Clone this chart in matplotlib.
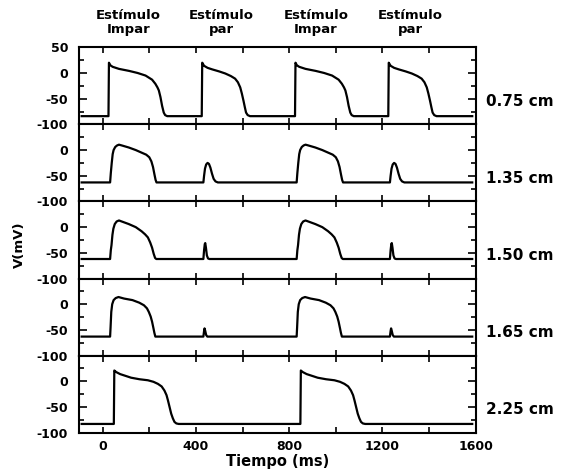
import numpy as np
import matplotlib.pyplot as plt
from matplotlib.ticker import MultipleLocator

plt.rcParams['font.family'] = ['DejaVu Sans']
plt.rcParams['font.weight'] = 'bold'
plt.rcParams['axes.unicode_minus'] = False

# etiquetas
distances = ['0.75 cm', '1.35 cm', '1.50 cm', '1.65 cm', '2.25 cm']
stim_labels = ['Estímulo\nImpar', 'Estímulo\npar', 'Estímulo\nImpar', 'Estímulo\npar']
stim_label_t = [110, 510, 915, 1320]
t_start, t_end = -90, 1585

# 0.75 cm: potencial de accion impar / par (t relativo en ms, V en mV)
t_odd_075 = [0, 2, 8, 18, 45, 89, 125, 159, 187, 201, 210, 216, 223, 230, 237, 243, 252]
v_odd_075 = [-84, 20, 15, 12, 8, 4, 0, -5, -13, -21, -28, -34, -47, -64, -77, -82, -84]
t_even_075 = [0, 2, 10, 25, 45, 75, 101, 125, 143, 155, 165, 172, 179, 185, 190, 197, 207]
v_even_075 = [-84, 20, 14, 10, 7, 3, -1, -6, -11, -18, -28, -40, -54, -67, -77, -82, -84]
onsets_075 = [25, 425, 825, 1225]

# 1.35 cm
t_big_135 = [0, 3, 7, 11, 15, 22, 30, 38, 50, 80, 110, 135, 155, 168, 177, 184, 190, 195, 199]
v_big_135 = [-63, -45, -25, -8, 0, 6, 9, 10.5, 9, 5, 0, -5, -9, -14, -22, -33, -47, -58, -63]
t_small_135 = [0, 3, 7, 12, 18, 24, 30, 37, 44, 52, 62]
v_small_135 = [-63, -50, -36, -28, -25, -27, -34, -46, -56, -61, -63]
onsets_135 = [32, 432, 832, 1232]

# 1.50 cm
t_big_150 = [0, 3, 6, 10, 14, 20, 28, 38, 50, 80, 110, 135, 150, 162, 172, 180, 187, 193, 198]
v_big_150 = [-62, -45, -35, -15, -3, 6, 11, 13, 11, 6, 0, -8, -14, -20, -30, -40, -52, -60, -62]
t_small_150 = [0, 3, 6, 8, 11, 15, 20, 26]
v_small_150 = [-62, -45, -33, -31, -40, -55, -61, -62]
onsets_150 = [32, 432, 832, 1232]

# 1.65 cm
t_big_165 = [0, 2, 5, 9, 15, 24, 36, 60, 96, 125, 145, 158, 166, 174, 180, 186, 190, 194]
v_big_165 = [-63, -45, -15, 0, 8, 12, 14, 11, 8, 3, -2, -8, -15, -24, -34, -47, -56, -63]
t_small_165 = [0, 3, 5, 8, 12, 17]
v_small_165 = [-63, -52, -47, -52, -60, -63]
onsets_165 = [32, 432, 832, 1232]

# 2.25 cm (solo responde a los estimulos impares)
t_ap_225 = [0, 2, 10, 27, 54, 74, 110, 146, 170, 189, 205, 217, 226, 232, 239, 246, 253, 260, 268, 278]
v_ap_225 = [-83, 21, 18, 14, 10, 7, 4, 2, -1, -5, -10, -18, -27, -37, -50, -63, -72, -79, -82, -83]
onsets_225 = [48, 848]

panels = [
    [(onsets_075[0], t_odd_075, v_odd_075), (onsets_075[1], t_even_075, v_even_075),
     (onsets_075[2], t_odd_075, v_odd_075), (onsets_075[3], t_even_075, v_even_075)],
    [(onsets_135[0], t_big_135, v_big_135), (onsets_135[1], t_small_135, v_small_135),
     (onsets_135[2], t_big_135, v_big_135), (onsets_135[3], t_small_135, v_small_135)],
    [(onsets_150[0], t_big_150, v_big_150), (onsets_150[1], t_small_150, v_small_150),
     (onsets_150[2], t_big_150, v_big_150), (onsets_150[3], t_small_150, v_small_150)],
    [(onsets_165[0], t_big_165, v_big_165), (onsets_165[1], t_small_165, v_small_165),
     (onsets_165[2], t_big_165, v_big_165), (onsets_165[3], t_small_165, v_small_165)],
    [(onsets_225[0], t_ap_225, v_ap_225), (onsets_225[1], t_ap_225, v_ap_225)],
]

fig = plt.figure(figsize=(5.61, 4.72), dpi=100)
left, width = 0.1414, 0.7066
top, bottom = 0.8998, 0.0833
h = (top - bottom) / 5

axes = []
for i, beats in enumerate(panels):
    ax = fig.add_axes([left, top - (i + 1) * h, width, h])
    axes.append(ax)
    base = beats[0][2][0]
    t = [t_start]
    v = [base]
    for onset, tt, vv in beats:
        t += list(np.array(tt) + onset)
        v += list(vv)
    t.append(t_end)
    v.append(base)
    ax.plot(t, v, color='black', lw=1.6)

    ax.set_xlim(-100, 1600)
    ax.set_ylim(-100, 50)
    ax.set_yticks([-100, -50, 0, 50])
    ax.yaxis.set_minor_locator(MultipleLocator(25))
    ax.xaxis.set_major_locator(MultipleLocator(400))
    ax.xaxis.set_minor_locator(MultipleLocator(200))
    if i == 0:
        ax.set_yticklabels(['-100', '-50', '0', '50'])
    else:
        ax.set_yticklabels(['-100', '-50', '0', ''])
    if i < 4:
        ax.set_xticklabels([])
    ax.tick_params(which='both', direction='in', top=True, right=True, width=1.2)
    ax.tick_params(which='major', axis='y', length=5.5, pad=8, labelsize=9)
    ax.tick_params(which='minor', axis='y', length=3.5)
    ax.tick_params(which='both', axis='x', length=4, pad=5, labelsize=9)
    for s in ax.spines.values():
        s.set_linewidth(1.5)
    ax.text(1.025, 0.3, distances[i], transform=ax.transAxes, fontsize=11,
            fontweight='bold', va='center', ha='left')

axes[-1].set_xlabel('Tiempo (ms)', fontsize=10.5, fontweight='bold', labelpad=1)
fig.text(0.035, 1 - 245 / 472, 'V(mV)', rotation=90, fontsize=9.5,
         fontweight='bold', va='center', ha='center')

for lab, tx in zip(stim_labels, stim_label_t):
    axes[0].text(tx, 1.32, lab, transform=axes[0].get_xaxis_transform(),
                 fontsize=9.5, fontweight='bold', ha='center', va='center',
                 linespacing=1.1)

fig.savefig('out.png', dpi=100)
